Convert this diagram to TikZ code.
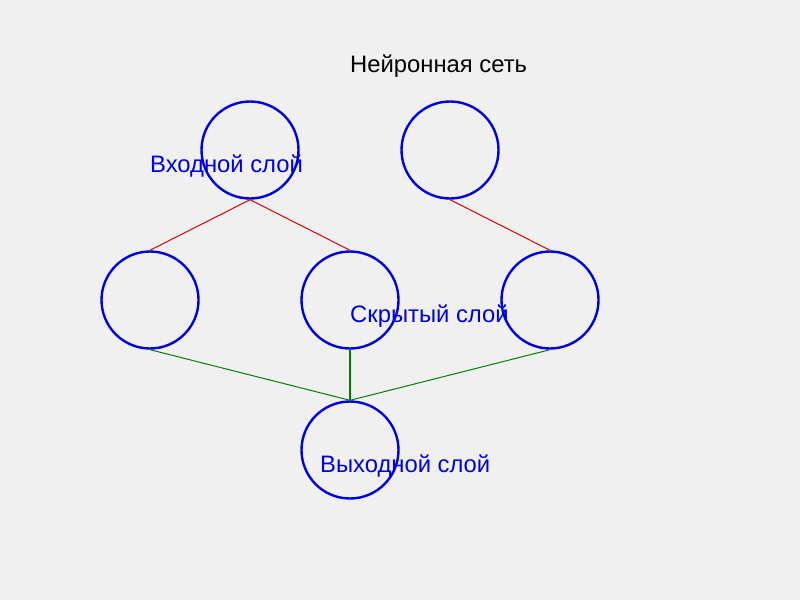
\documentclass[tikz,border=0pt]{standalone}
\usepackage{fontspec}
\setmainfont{Liberation Sans}
\definecolor{bg}{RGB}{240,240,240}
\definecolor{nblue}{RGB}{0,0,225}
\definecolor{tblue}{RGB}{0,0,225}
\definecolor{lred}{RGB}{220,0,0}
\definecolor{lgreen}{RGB}{0,128,0}
\begin{document}
\begin{tikzpicture}[x=1pt,y=-1pt,
  neuron/.style={circle,draw=nblue,line width=2.4pt,minimum size=97pt,inner sep=0pt},
  lbl/.style={anchor=base west,inner sep=0pt,font=\fontsize{23.8}{28}\selectfont,text=tblue},
  redline/.style={draw=lred,line width=1pt},
  greenline/.style={draw=lgreen,line width=1pt},
  greenthick/.style={draw=lgreen,line width=2pt}]
\fill[bg] (0,0) rectangle (800,600);
\useasboundingbox (0,0) rectangle (800,600);
\node[neuron] (i1) at (250,150) {};
\node[neuron] (i2) at (450,150) {};
\node[neuron] (h1) at (150,300) {};
\node[neuron] (h2) at (350,300) {};
\node[neuron] (h3) at (550,300) {};
\node[neuron] (o1) at (350,450) {};
\draw[redline] (i1.south) -- (h1.north);
\draw[redline] (i1.south) -- (h2.north);
\draw[redline] (i2.south) -- (h3.north);
\draw[greenline] (h1.south) -- (o1.north);
\draw[greenthick] (h2.south) -- (o1.north);
\draw[greenline] (h3.south) -- (o1.north);
\node[lbl,text=black] (title) at (350,72) {Нейронная сеть};
\node[lbl] (lin) at (150,172) {Входной слой};
\node[lbl] (lhid) at (350,322) {Скрытый слой};
\node[lbl] (lout) at (320,472) {Выходной слой};
\end{tikzpicture}
\end{document}
